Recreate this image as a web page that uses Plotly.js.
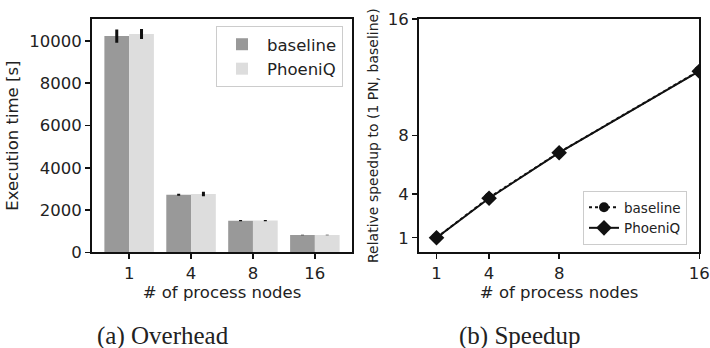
<!DOCTYPE html>
<html>
<head>
<meta charset="utf-8">
<script src="https://cdn.plot.ly/plotly-3.0.1.min.js"></script>
<style>
html,body{margin:0;padding:0;background:#fff;}
#chart{width:710px;height:348px;}
</style>
</head>
<body>
<div id="chart"></div>
<script>
// ---- data ----
const nodeLabels = ['1', '4', '8', '16'];
const baselineTime = [10230, 2725, 1498, 820];
const baselineErr = [310, 45, 30, 12];
const phoeniqTime = [10330, 2760, 1500, 822];
const phoeniqErr = [240, 110, 25, 12];
const timeTicks = [0, 2000, 4000, 6000, 8000, 10000];
const timeTickText = ['0', '2000', '4000', '6000', '8000', '10000'];

const nodes = [1, 4, 8, 16];
const baselineSpeedup = [1.0, 3.75, 6.85, 12.45];
const phoeniqSpeedup = [1.0, 3.71, 6.83, 12.42];
const speedTicks = [1, 4, 8, 16];
const speedTickText = ['1', '4', '8', '16'];

const FONT = 'DejaVu Sans, sans-serif';
const W = 710, H = 348;
const px = v => v / W;
const py = v => 1 - v / H;

const traces = [
  {
    type: 'bar', name: 'baseline', x: nodeLabels, y: baselineTime,
    marker: {color: '#999999', line: {width: 0}},
    error_y: {type: 'data', array: baselineErr, visible: true, color: '#111111', thickness: 3, width: 0},
    xaxis: 'x', yaxis: 'y', legend: 'legend'
  },
  {
    type: 'bar', name: 'PhoeniQ', x: nodeLabels, y: phoeniqTime,
    marker: {color: '#dddddd', line: {width: 0}},
    error_y: {type: 'data', array: phoeniqErr, visible: true, color: '#111111', thickness: 3, width: 0},
    xaxis: 'x', yaxis: 'y', legend: 'legend'
  },
  {
    type: 'scatter', mode: 'lines+markers', name: 'baseline', x: nodes, y: baselineSpeedup,
    line: {color: '#111111', width: 2, dash: 'dot'},
    marker: {symbol: 'circle', size: 10, color: '#111111'},
    xaxis: 'x2', yaxis: 'y2', legend: 'legend2', cliponaxis: true
  },
  {
    type: 'scatter', mode: 'lines+markers', name: 'PhoeniQ', x: nodes, y: phoeniqSpeedup,
    line: {color: '#111111', width: 2, dash: 'solid'},
    marker: {symbol: 'diamond', size: 12, color: '#111111'},
    xaxis: 'x2', yaxis: 'y2', legend: 'legend2', cliponaxis: true
  }
];

const axisCommon = {
  showline: true, linecolor: '#111111', linewidth: 2, mirror: true,
  ticks: 'outside', ticklen: 5, tickwidth: 1.5, tickcolor: '#111111',
  showgrid: false, zeroline: false,
  tickfont: {family: FONT, size: 16.5, color: '#222222'}
};

const layout = {
  width: W, height: H,
  margin: {l: 0, r: 0, t: 0, b: 0},
  paper_bgcolor: '#ffffff', plot_bgcolor: '#ffffff',
  font: {family: FONT, color: '#222222'},
  barmode: 'group', bargap: 0.2, bargroupgap: 0,
  showlegend: true,
  xaxis: Object.assign({}, axisCommon, {
    domain: [px(92), px(352)], anchor: 'y', type: 'category',
    range: [-0.6, 3.6],
    title: {text: '# of process nodes', font: {family: FONT, size: 16.5, color: '#222222'}, standoff: 4}
  }),
  yaxis: Object.assign({}, axisCommon, {
    domain: [py(252.3), py(19)], anchor: 'x',
    range: [0, 11040], tickvals: timeTicks, ticktext: timeTickText,
    title: {text: 'Execution time [s]', font: {family: FONT, size: 16.5, color: '#222222'}, standoff: 6}
  }),
  xaxis2: Object.assign({}, axisCommon, {
    domain: [px(419), px(699.3)], anchor: 'y2',
    range: [0, 16], tickvals: speedTicks, ticktext: speedTickText,
    title: {text: '# of process nodes', font: {family: FONT, size: 16.5, color: '#222222'}, standoff: 4}
  }),
  yaxis2: Object.assign({}, axisCommon, {
    domain: [py(252.3), py(19)], anchor: 'x2',
    range: [0, 16], tickvals: speedTicks, ticktext: speedTickText,
    title: {text: 'Relative speedup to (1 PN, baseline)', font: {family: FONT, size: 14, color: '#222222'}, standoff: 6}
  }),
  legend: {
    x: px(343), xanchor: 'right', y: py(26), yanchor: 'top',
    bgcolor: 'rgba(255,255,255,0.9)', bordercolor: '#cccccc', borderwidth: 1,
    font: {family: FONT, size: 16.5, color: '#222222'}, itemwidth: 40, tracegroupgap: 0
  },
  legend2: {
    x: px(687), xanchor: 'right', y: py(245), yanchor: 'bottom',
    bgcolor: 'rgba(255,255,255,0.9)', bordercolor: '#cccccc', borderwidth: 1,
    font: {family: FONT, size: 13.5, color: '#222222'}, itemwidth: 30
  },
  annotations: [
    {text: '(a) Overhead', xref: 'paper', yref: 'paper', x: px(163), y: py(336), xanchor: 'center', yanchor: 'middle',
     showarrow: false, font: {family: 'Liberation Serif, serif', size: 25, color: '#222222'}},
    {text: '(b) Speedup', xref: 'paper', yref: 'paper', x: px(520), y: py(336), xanchor: 'center', yanchor: 'middle',
     showarrow: false, font: {family: 'Liberation Serif, serif', size: 25, color: '#222222'}}
  ]
};

Plotly.newPlot('chart', traces, layout, {staticPlot: true, displayModeBar: false});
</script>
</body>
</html>
